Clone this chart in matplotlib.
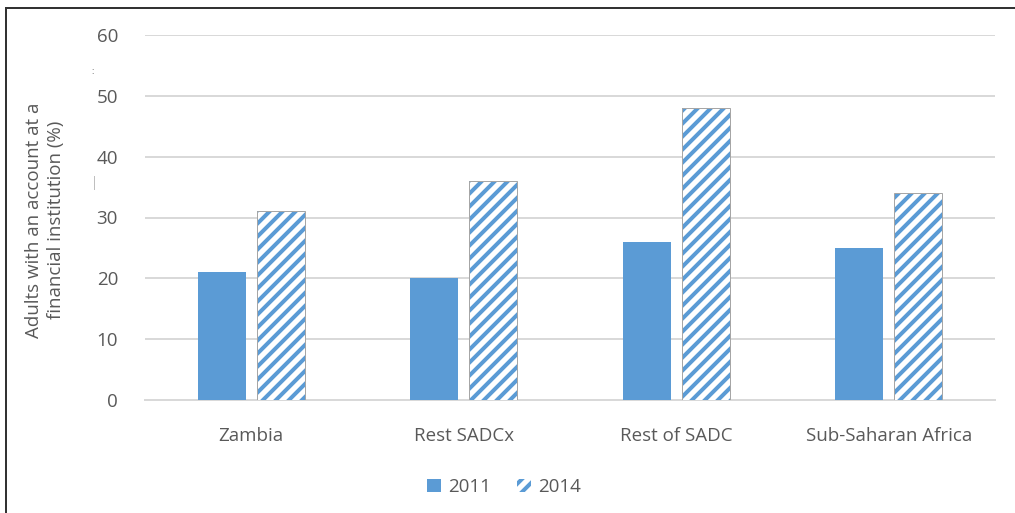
import matplotlib
matplotlib.use("Agg")
import matplotlib.pyplot as plt
from matplotlib.patches import Patch
from matplotlib.lines import Line2D
import numpy as np

categories = ["Zambia", "Rest SADCx", "Rest of SADC", "Sub-Saharan Africa"]
values_2011 = [21, 20, 26, 25]
values_2014 = [31, 36, 48, 34]
series_labels = ["2011", "2014"]
yticks = [0, 10, 20, 30, 40, 50, 60]
ylabel = "Adults with an account at a\nfinancial institution (%)"

W, H = 1015, 513
DPI = 78  # chosen so hatch spacing matches reference


def pt(px):
    return px * 72.0 / DPI


plt.rcParams["font.family"] = ["Open Sans", "DejaVu Sans"]
plt.rcParams["hatch.linewidth"] = pt(4.0)

BLUE = "#5B9BD5"
TXT = "#595959"
GRID = "#D9D9D9"
FS = pt(18.7)

fig = plt.figure(figsize=(W / DPI, H / DPI), dpi=DPI)
ax = fig.add_axes([145 / W, 1 - 400 / H, 850 / W, 365 / H])

x = np.arange(len(categories))
bw = 0.226
off = 0.138
ax.bar(x - off, values_2011, bw, color=BLUE, linewidth=0, zorder=3, label=series_labels[0])
ax.bar(x + off, values_2014, bw, color="white", edgecolor=BLUE, hatch="//", linewidth=0,
       zorder=3, label=series_labels[1])
ax.bar(x + off, values_2014, bw, fill=False, edgecolor="#A6A6A6", linewidth=pt(1.0), zorder=4)

ax.set_xlim(-0.5, len(categories) - 0.5)
ax.set_ylim(0, 60)
ax.set_yticks(yticks)
ax.set_xticks(x)
ax.set_xticklabels(categories)
ax.yaxis.grid(True, color=GRID, linewidth=pt(2.0), zorder=0)
ax.set_axisbelow(True)
for s in ["left", "right", "top"]:
    ax.spines[s].set_visible(False)
ax.spines["bottom"].set_color(GRID)
ax.spines["bottom"].set_linewidth(pt(2.0))
ax.spines["bottom"].set_zorder(1)
ax.tick_params(axis="both", length=0, labelsize=FS, labelcolor=TXT)
ax.tick_params(axis="y", pad=pt(27))
ax.tick_params(axis="x", pad=pt(27))

fig.text(45 / W, 1 - 220 / H, ylabel, rotation=90, ha="center", va="center",
         fontsize=FS, color=TXT, linespacing=1.3)

handles = [Patch(facecolor=BLUE, edgecolor="none", label=series_labels[0]),
           Patch(facecolor="white", edgecolor=BLUE, hatch="//", linewidth=0, label=series_labels[1])]
fig.legend(handles=handles, loc="center", bbox_to_anchor=(504 / W, 1 - 487 / H), ncol=2,
           frameon=False, fontsize=FS, labelcolor=TXT, handlelength=0.75, handleheight=0.75,
           handletextpad=0.4, columnspacing=1.4)

# outer frame (top and left edges)
fig.add_artist(Line2D([6 / W, 1.0], [1 - 8 / H, 1 - 8 / H], color="#333333", linewidth=pt(2)))
fig.add_artist(Line2D([6 / W, 6 / W], [0, 1 - 8 / H], color="#333333", linewidth=pt(2)))

# small stray marks seen in the reference
fig.text(93 / W, 1 - 72 / H, ":", ha="center", va="center", fontsize=pt(9), color="#333333")
fig.add_artist(Line2D([94 / W, 94 / W], [1 - 176 / H, 1 - 189 / H], color="#BFBFBF", linewidth=pt(1)))

fig.savefig("out.png", dpi=DPI)
